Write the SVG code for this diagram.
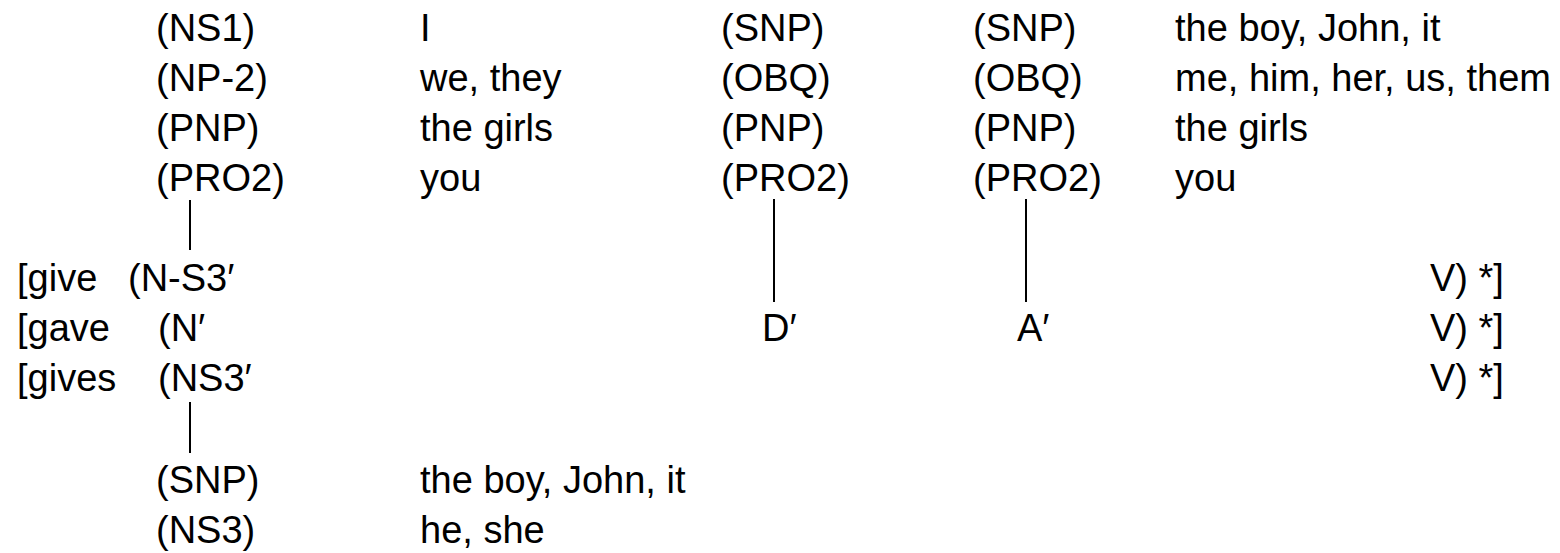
<svg xmlns="http://www.w3.org/2000/svg" width="1560" height="553" viewBox="0 0 1560 553">
  <style>
    text { font-family: "Liberation Sans", Arial, sans-serif; font-size: 38px; fill: #000; }
    .link { stroke: #000; stroke-width: 2; fill: none; }
  </style>
  <rect width="1560" height="553" fill="#fff"/>

  <!-- subject alternatives above the verb frame -->
  <g id="subject-options">
    <text x="156" y="41">(NS1)</text>
    <text x="156" y="91">(NP-2)</text>
    <text x="156" y="141">(PNP)</text>
    <text x="156" y="191">(PRO2)</text>
    <text x="420" y="41">I</text>
    <text x="420" y="91">we, they</text>
    <text x="420" y="141">the girls</text>
    <text x="420" y="191">you</text>
  </g>

  <!-- dative alternatives -->
  <g id="dative-options">
    <text x="721" y="41">(SNP)</text>
    <text x="721" y="91">(OBQ)</text>
    <text x="721" y="141">(PNP)</text>
    <text x="721" y="191">(PRO2)</text>
  </g>

  <!-- accusative alternatives with examples -->
  <g id="accusative-options">
    <text x="973" y="41">(SNP)</text>
    <text x="973" y="91">(OBQ)</text>
    <text x="973" y="141">(PNP)</text>
    <text x="973" y="191">(PRO2)</text>
    <text x="1175" y="41">the boy, John, it</text>
    <text x="1175" y="91">me, him, her, us, them</text>
    <text x="1175" y="141">the girls</text>
    <text x="1175" y="191">you</text>
  </g>

  <!-- verb frames -->
  <g id="frame-give">
    <text x="17" y="291">[give</text>
    <text x="128" y="291">(N-S3′</text>
    <text x="1430" y="291">V) *]</text>
  </g>
  <g id="frame-gave">
    <text x="17" y="341">[gave</text>
    <text x="158" y="341">(N′</text>
    <text x="762" y="341">D′</text>
    <text x="1017" y="341">A′</text>
    <text x="1430" y="341">V) *]</text>
  </g>
  <g id="frame-gives">
    <text x="17" y="391">[gives</text>
    <text x="158" y="391">(NS3′</text>
    <text x="1430" y="391">V) *]</text>
  </g>

  <!-- third-person subject alternatives -->
  <g id="third-person-options">
    <text x="156" y="493">(SNP)</text>
    <text x="156" y="543">(NS3)</text>
    <text x="420" y="493">the boy, John, it</text>
    <text x="420" y="543">he, she</text>
  </g>

  <!-- connectors -->
  <g id="connectors">
    <line class="link" x1="190" y1="200" x2="190" y2="250"/>
    <line class="link" x1="774" y1="199" x2="774" y2="302"/>
    <line class="link" x1="1026" y1="199" x2="1026" y2="302"/>
    <line class="link" x1="190" y1="402" x2="190" y2="453"/>
  </g>
</svg>
